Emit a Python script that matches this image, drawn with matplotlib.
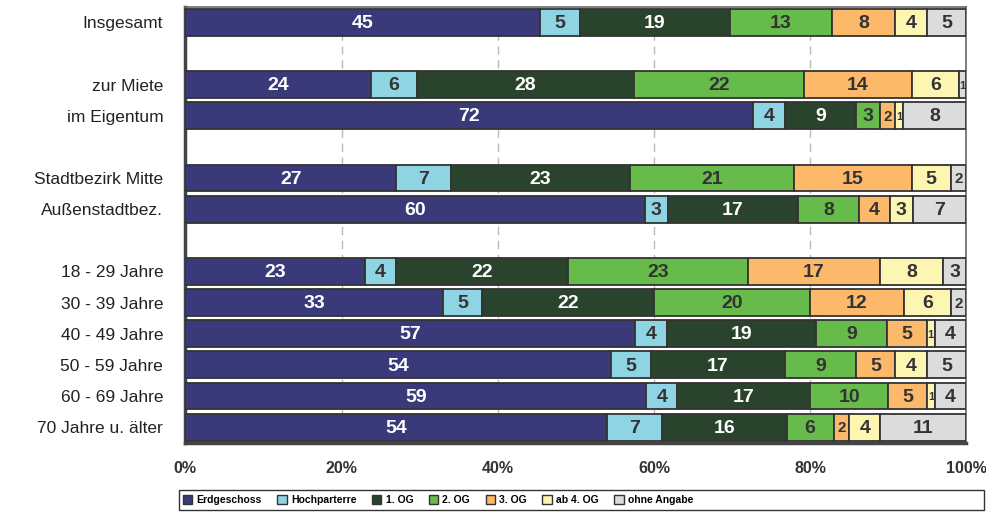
import numpy as np
import matplotlib.pyplot as plt

plt.rcParams['font.family'] = ['Liberation Sans', 'DejaVu Sans']

rows = ['Insgesamt', '', 'zur Miete', 'im Eigentum', '',
        'Stadtbezirk Mitte', 'Außenstadtbez.', '',
        '18 - 29 Jahre', '30 - 39 Jahre', '40 - 49 Jahre',
        '50 - 59 Jahre', '60 - 69 Jahre', '70 Jahre u. älter']

series = ['Erdgeschoss', 'Hochparterre', '1. OG', '2. OG', '3. OG', 'ab 4. OG', 'ohne Angabe']
colors = ['#3a3a7a', '#8fd4e2', '#29432c', '#67bb4a', '#fdb96a', '#fdf6b2', '#dcdcdc']
text_colors = ['white', '#333333', 'white', '#333333', '#333333', '#333333', '#333333']

# shares per row in percent (None = spacer row)
erdgeschoss  = [45, None, 24, 72, None, 27, 60, None, 23, 33, 57, 54, 59, 54]
hochparterre = [5, None, 6, 4, None, 7, 3, None, 4, 5, 4, 5, 4, 7]
og1          = [19, None, 28, 9, None, 23, 17, None, 22, 22, 19, 17, 17, 16]
og2          = [13, None, 22, 3, None, 21, 8, None, 23, 20, 9, 9, 10, 6]
og3          = [8, None, 14, 2, None, 15, 4, None, 17, 12, 5, 5, 5, 2]
og4          = [4, None, 6, 1, None, 5, 3, None, 8, 6, 1, 4, 1, 4]
ohne_angabe  = [5, None, 1, 8, None, 2, 7, None, 3, 2, 4, 5, 4, 11]

data = [erdgeschoss, hochparterre, og1, og2, og3, og4, ohne_angabe]

fig = plt.figure(figsize=(9.86, 5.13), dpi=100)
ax = fig.add_axes([0.188, 0.137, 0.792, 0.850])

y = np.arange(len(rows))
ax.set_ylim(len(rows) - 0.5, -0.5)
ax.set_xlim(0, 100)

for r in range(len(rows)):
    if erdgeschoss[r] is None:
        continue
    vals = np.array([s[r] for s in data], dtype=float)
    vals = vals / vals.sum() * 100  # 100 % stacked
    left = 0
    for k, v in enumerate(vals):
        ax.barh(y[r], v, left=left, height=0.86, color=colors[k],
                edgecolor='#333333', linewidth=1.3, zorder=3)
        label = data[k][r]
        if v >= 2.5:
            fs = 14
        elif v >= 1.5:
            fs = 11
        else:
            fs = 8
        ax.text(left + v / 2, y[r] + 0.04, str(label), ha='center', va='center',
                color=text_colors[k], fontsize=fs, fontweight='bold', zorder=4)
        left += v

for gx in [20, 40, 60, 80]:
    ax.axvline(gx, color='#bbbbbb', linestyle=(0, (6, 4)), linewidth=1, zorder=1)

ax.set_yticks(y)
ax.set_yticklabels(rows, fontsize=12.5, color='#222222')
ax.tick_params(axis='y', length=0, pad=16)
ax.set_xticks([0, 20, 40, 60, 80, 100])
ax.set_xticklabels(['0%', '20%', '40%', '60%', '80%', '100%'], fontsize=11.5,
                   fontweight='bold', color='#333333')
ax.tick_params(axis='x', length=0, pad=13)

for side in ['left', 'bottom']:
    ax.spines[side].set_color('#444444')
    ax.spines[side].set_linewidth(2.5)
for side in ['right', 'top']:
    ax.spines[side].set_color('#666666')
    ax.spines[side].set_linewidth(1.2)

# legend box spans the full width, entries packed to the left
fig.patches.append(plt.Rectangle((0.182, 0.006), 0.816, 0.038, transform=fig.transFigure,
                                 facecolor='white', edgecolor='#333333', linewidth=1))
handles = [plt.Rectangle((0, 0), 1, 1, facecolor=c, edgecolor='#333333', linewidth=1)
           for c in colors]
fig.legend(handles, series, loc='center left', bbox_to_anchor=(0.176, 0.025),
           ncol=7, frameon=False, handlelength=0.9, handleheight=0.9, handletextpad=0.4,
           columnspacing=1.5, prop={'weight': 'bold', 'size': 7.5})

fig.savefig('out.png', dpi=100)
